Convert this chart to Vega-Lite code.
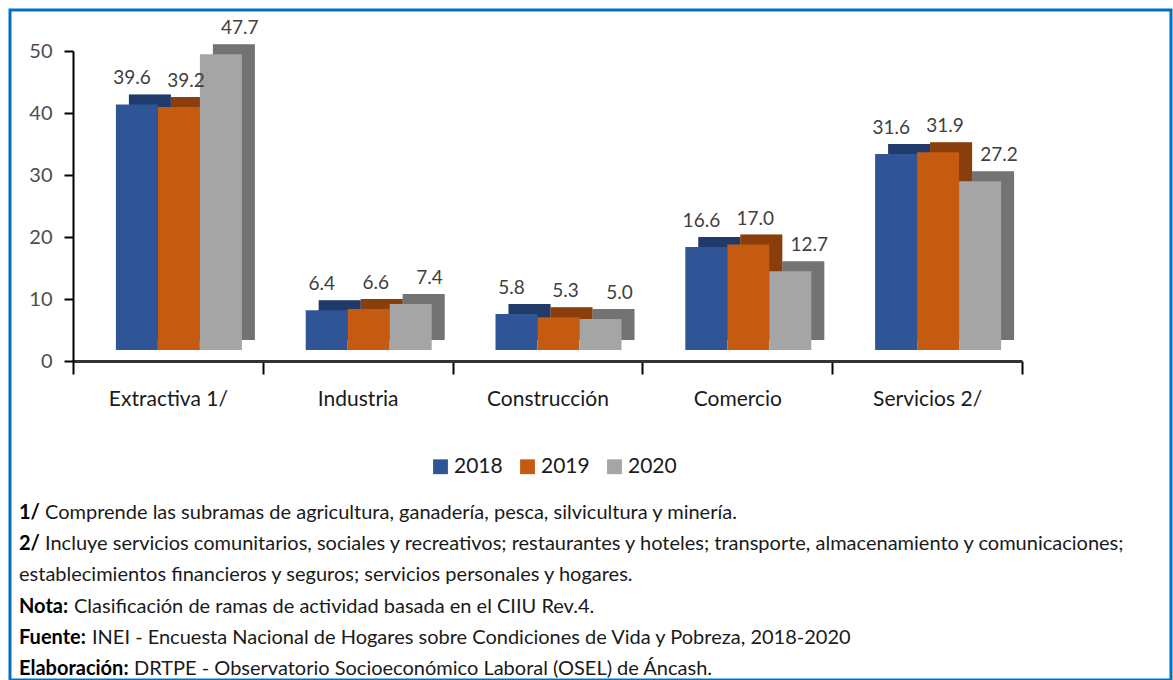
{
  "$schema": "https://vega.github.io/schema/vega-lite/v6.json",
  "width": 1161,
  "height": 670,
  "padding": {"left": 10, "top": 10, "right": 2, "bottom": 0},
  "autosize": {"type": "none"},
  "background": "white",
  "config": {
    "view": {"stroke": "#0070C0", "strokeWidth": 3},
    "font": "Lato"
  },
  "datasets": {
    "bars": [
      {"cat": "Extractiva 1/", "year": "2018", "value": 39.6},
      {"cat": "Extractiva 1/", "year": "2019", "value": 39.2},
      {"cat": "Extractiva 1/", "year": "2020", "value": 47.7},
      {"cat": "Industria", "year": "2018", "value": 6.4},
      {"cat": "Industria", "year": "2019", "value": 6.6},
      {"cat": "Industria", "year": "2020", "value": 7.4},
      {"cat": "Construcción", "year": "2018", "value": 5.8},
      {"cat": "Construcción", "year": "2019", "value": 5.3},
      {"cat": "Construcción", "year": "2020", "value": 5.0},
      {"cat": "Comercio", "year": "2018", "value": 16.6},
      {"cat": "Comercio", "year": "2019", "value": 17.0},
      {"cat": "Comercio", "year": "2020", "value": 12.7},
      {"cat": "Servicios 2/", "year": "2018", "value": 31.6},
      {"cat": "Servicios 2/", "year": "2019", "value": 31.9},
      {"cat": "Servicios 2/", "year": "2020", "value": 27.2}
    ],
    "notes": [
      {"line": "1", "prefix": "1/", "body": "Comprende las subramas de agricultura, ganadería, pesca, silvicultura y minería."},
      {"line": "2", "prefix": "2/", "body": "Incluye servicios comunitarios, sociales y recreativos; restaurantes y hoteles; transporte, almacenamiento y comunicaciones;"},
      {"line": "3", "prefix": "", "body": "establecimientos financieros y seguros; servicios personales y hogares."},
      {"line": "4", "prefix": "Nota:", "body": "Clasificación de ramas de actividad basada en el CIIU Rev.4."},
      {"line": "5", "prefix": "Fuente:", "body": "INEI - Encuesta Nacional de Hogares sobre Condiciones de Vida y Pobreza, 2018-2020"},
      {"line": "6", "prefix": "Elaboración:", "body": "DRTPE - Observatorio Socioeconómico Laboral (OSEL) de Áncash."}
    ]
  },
  "layer": [
    {
      "data": {"name": "bars"},
      "encoding": {
        "x": {
          "field": "cat", "type": "nominal", "sort": null,
          "scale": {"range": [63, 1012], "paddingInner": 0, "paddingOuter": 0},
          "axis": {
            "orient": "bottom", "offset": -319, "title": null, "tickBand": "extent",
            "domainColor": "#333333", "domainWidth": 3, "tickColor": "#000000", "tickWidth": 2, "tickSize": 13,
            "labelFont": "Lato", "labelFontSize": 21, "labelColor": "#1a1a1a", "labelPadding": 14, "labelAngle": 0
          }
        },
        "y": {
          "field": "value", "type": "quantitative",
          "scale": {"domain": [0, 50], "range": [351, 41], "nice": false, "zero": true},
          "axis": {
            "orient": "left", "offset": -63, "values": [0, 10, 20, 30, 40, 50], "title": null, "grid": false,
            "domainColor": "#000000", "domainWidth": 2, "tickColor": "#000000", "tickWidth": 2, "tickSize": 9,
            "labelFont": "Lato", "labelFontSize": 20, "labelColor": "#4d4d4d", "labelPadding": 12
          }
        },
        "color": {
          "field": "year", "type": "nominal",
          "scale": {"domain": ["2018", "2019", "2020"], "range": ["#2F5597", "#C55A11", "#A5A5A5"]},
          "legend": {
            "orient": "none", "legendX": 420, "legendY": 446, "direction": "horizontal", "title": null,
            "symbolType": "square", "symbolSize": 220, "symbolStrokeWidth": 0,
            "labelFont": "Lato", "labelFontSize": 21, "labelColor": "#1a1a1a", "columnPadding": 14, "labelOffset": 3
          }
        }
      },
      "layer": [
        {
          "mark": {"type": "bar", "yOffset": -21, "y2Offset": -21},
          "encoding": {
            "xOffset": {"field": "year", "type": "nominal", "scale": {"range": [24, 213.8], "paddingInner": 0, "paddingOuter": 0.76}}
          }
        },
        {
          "mark": {"type": "bar", "yOffset": -21, "y2Offset": -21, "color": "#000000", "opacity": 0.3},
          "encoding": {
            "color": {"value": "#000000"},
            "xOffset": {"field": "year", "type": "nominal", "scale": {"range": [24, 213.8], "paddingInner": 0, "paddingOuter": 0.76}}
          }
        },
        {
          "mark": {"type": "bar", "yOffset": -11, "y2Offset": -11},
          "encoding": {
            "xOffset": {"field": "year", "type": "nominal", "scale": {"range": [11, 200.8], "paddingInner": 0, "paddingOuter": 0.76}}
          }
        },
        {
          "mark": {"type": "text", "dy": -31, "baseline": "alphabetic", "font": "Lato", "fontSize": 19, "color": "#404040"},
          "encoding": {
            "xOffset": {"field": "year", "type": "nominal", "scale": {"range": [18, 207.8], "paddingInner": 0, "paddingOuter": 0.76}},
            "color": {"value": "#404040"},
            "text": {"field": "value", "type": "quantitative", "format": ".1f"}
          }
        }
      ],
      "resolve": {"scale": {"xOffset": "independent"}}
    },
    {
      "data": {"name": "notes"},
      "encoding": {
        "y": {"field": "line", "type": "ordinal", "scale": {"type": "point", "range": [503, 659], "padding": 0}, "axis": null},
        "x": {"datum": 0, "type": "quantitative", "scale": {"domain": [0, 1], "range": [9, 1150]}, "axis": null}
      },
      "layer": [
        {
          "mark": {"type": "text", "align": "left", "baseline": "middle", "font": "Lato", "fontSize": 20, "fontWeight": "bold", "color": "#000000"},
          "encoding": {"text": {"field": "prefix"}}
        },
        {
          "transform": [{"filter": "datum.line == '1' || datum.line == '2'"}],
          "mark": {"type": "text", "align": "left", "baseline": "middle", "font": "Lato", "fontSize": 20, "color": "#1a1a1a", "dx": 26},
          "encoding": {"text": {"field": "body"}}
        },
        {
          "transform": [{"filter": "datum.line == '3'"}],
          "mark": {"type": "text", "align": "left", "baseline": "middle", "font": "Lato", "fontSize": 20, "color": "#1a1a1a", "dx": 0},
          "encoding": {"text": {"field": "body"}}
        },
        {
          "transform": [{"filter": "datum.line == '4'"}],
          "mark": {"type": "text", "align": "left", "baseline": "middle", "font": "Lato", "fontSize": 20, "color": "#1a1a1a", "dx": 55},
          "encoding": {"text": {"field": "body"}}
        },
        {
          "transform": [{"filter": "datum.line == '5'"}],
          "mark": {"type": "text", "align": "left", "baseline": "middle", "font": "Lato", "fontSize": 20, "color": "#1a1a1a", "dx": 73},
          "encoding": {"text": {"field": "body"}}
        },
        {
          "transform": [{"filter": "datum.line == '6'"}],
          "mark": {"type": "text", "align": "left", "baseline": "middle", "font": "Lato", "fontSize": 20, "color": "#1a1a1a", "dx": 115},
          "encoding": {"text": {"field": "body"}}
        }
      ]
    }
  ],
  "resolve": {"scale": {"x": "independent", "y": "independent"}}
}
